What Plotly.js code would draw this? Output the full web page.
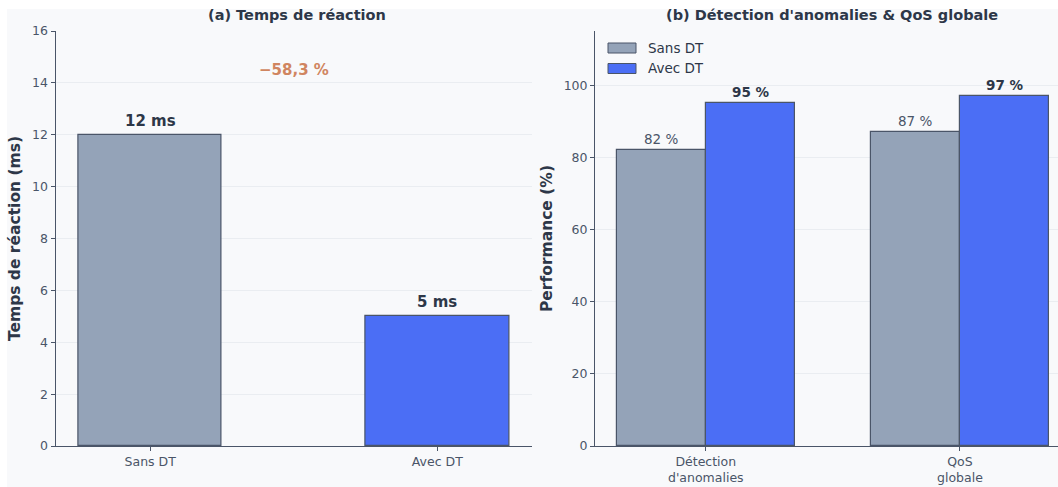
<!DOCTYPE html>
<html>
<head>
<meta charset="utf-8">
<script src="https://cdn.plot.ly/plotly-3.0.1.min.js"></script>
<style>html,body{margin:0;padding:0;background:#f8f9fb;}#chart{width:1058px;height:487px;}</style>
</head>
<body>
<div id="chart"></div>
<script>
// Panel (a)
const reactCategories = ["Sans DT", "Avec DT"];
const reactValues = [12, 5];
const reactLabels = ["12 ms", "5 ms"];
// Panel (b)
const perfCategories = ["Détection<br>d'anomalies", "QoS<br>globale"];
const perfSans = [82, 87];
const perfAvec = [95, 97];
const seriesNames = ["Sans DT", "Avec DT"];
const titleA = "(a) Temps de réaction";
const titleB = "(b) Détection d'anomalies & QoS globale";

const GRAY = "#94a3b8", BLUE = "#4b6ef5", EDGE = "#4a5568", TXT = "#2d3748", TICK = "#4a5568";
const FONT = "DejaVu Sans, Verdana, sans-serif";
const W = 1058, H = 487;
const px = x => x / W, py = y => 1 - y / H;

const pct = (reactValues[1] - reactValues[0]) / reactValues[0] * 100;
const deltaText = "−" + Math.abs(pct).toFixed(1).replace(".", ",") + " %";

const traces = [
  {type: "bar", x: [0, 1], y: reactValues, xaxis: "x", yaxis: "y", width: 0.5,
   marker: {color: [GRAY, BLUE], line: {color: EDGE, width: 1.2}}, showlegend: false, hoverinfo: "y"},
  {type: "bar", name: seriesNames[0], x: [-0.175, 0.825], y: perfSans, xaxis: "x2", yaxis: "y2", width: 0.35,
   marker: {color: GRAY, line: {color: EDGE, width: 1.2}}, showlegend: false},
  {type: "bar", name: seriesNames[1], x: [0.175, 1.175], y: perfAvec, xaxis: "x2", yaxis: "y2", width: 0.35,
   marker: {color: BLUE, line: {color: EDGE, width: 1.2}}, showlegend: false}
];

const annotations = [];
reactValues.forEach((v, i) => annotations.push({x: i, y: v, xref: "x", yref: "y", text: "<b>" + reactLabels[i] + "</b>",
  showarrow: false, yanchor: "bottom", yshift: 3, font: {family: FONT, size: 15, color: TXT}}));
annotations.push({x: 0.5, y: 14.5, xref: "x", yref: "y", text: "<b>" + deltaText + "</b>", showarrow: false,
  font: {family: FONT, size: 15, color: "#d08560"}});
perfSans.forEach((v, i) => annotations.push({x: i - 0.175, y: v, xref: "x2", yref: "y2", text: v + " %",
  showarrow: false, yanchor: "bottom", yshift: 1, font: {family: FONT, size: 13.5, color: TICK}}));
perfAvec.forEach((v, i) => annotations.push({x: i + 0.175, y: v, xref: "x2", yref: "y2", text: "<b>" + v + " %</b>",
  showarrow: false, yanchor: "bottom", yshift: 1, font: {family: FONT, size: 13.5, color: TXT}}));
annotations.push({x: px(297), y: py(15), xref: "paper", yref: "paper", xanchor: "center", yanchor: "middle",
  text: "<b>" + titleA + "</b>", showarrow: false, font: {family: FONT, size: 14.5, color: TXT}});
annotations.push({x: px(832), y: py(15), xref: "paper", yref: "paper", xanchor: "center", yanchor: "middle",
  text: "<b>" + titleB + "</b>", showarrow: false, font: {family: FONT, size: 14.5, color: TXT}});

// custom legend (patches + labels)
const legendColors = [GRAY, BLUE];
const shapes = [
  {type: "rect", xref: "paper", yref: "paper", x0: 0, x1: 1, y0: py(9), y1: 1, fillcolor: "#ffffff", line: {width: 0}, layer: "below"},
  {type: "rect", xref: "paper", yref: "paper", x0: 0, x1: px(7), y0: 0, y1: 1, fillcolor: "#ffffff", line: {width: 0}, layer: "below"}
];
seriesNames.forEach((n, i) => {
  const yc = 48 + i * 20.5;
  shapes.push({type: "rect", xref: "paper", yref: "paper", x0: px(608), x1: px(636), y0: py(yc + 5), y1: py(yc - 5),
    fillcolor: legendColors[i], line: {color: EDGE, width: 1}});
  annotations.push({x: px(646), y: py(yc), xref: "paper", yref: "paper", xanchor: "left", yanchor: "middle",
    text: n, showarrow: false, font: {family: FONT, size: 13.5, color: TXT}});
});

const axCommon = {showline: true, linecolor: EDGE, linewidth: 1, ticks: "outside", ticklen: 4, tickcolor: EDGE,
  tickfont: {family: FONT, size: 12.5, color: TICK}, zeroline: false};

const layout = {
  width: W, height: H, margin: {l: 0, r: 0, t: 0, b: 0},
  paper_bgcolor: "#f8f9fb", plot_bgcolor: "#f8f9fb",
  font: {family: FONT, color: TXT},
  barmode: "overlay", bargap: 0, showlegend: false,
  xaxis: Object.assign({}, axCommon, {domain: [px(55.5), px(532)], range: [-0.33, 1.33],
    tickvals: [0, 1], ticktext: reactCategories, showgrid: false, anchor: "y"}),
  yaxis: Object.assign({}, axCommon, {domain: [py(446), py(31)], range: [0, 16], dtick: 2, showgrid: true,
    gridcolor: "#eaedf1", gridwidth: 1, anchor: "x",
    title: {text: "<b>Temps de réaction (ms)</b>", font: {family: FONT, size: 15.5, color: TXT}, standoff: 7}}),
  xaxis2: Object.assign({}, axCommon, {domain: [px(595), 1], range: [-0.436, 1.386],
    tickvals: [0, 1], ticktext: perfCategories, showgrid: false, anchor: "y2"}),
  yaxis2: Object.assign({}, axCommon, {domain: [py(446), py(31)], range: [0, 115], tickvals: [0, 20, 40, 60, 80, 100],
    showgrid: true, gridcolor: "#eaedf1", gridwidth: 1, anchor: "x2",
    title: {text: "<b>Performance (%)</b>", font: {family: FONT, size: 15.5, color: TXT}, standoff: 7}}),
  annotations: annotations,
  shapes: shapes
};

Plotly.newPlot("chart", traces, layout, {displayModeBar: false, responsive: false});
</script>
</body>
</html>
